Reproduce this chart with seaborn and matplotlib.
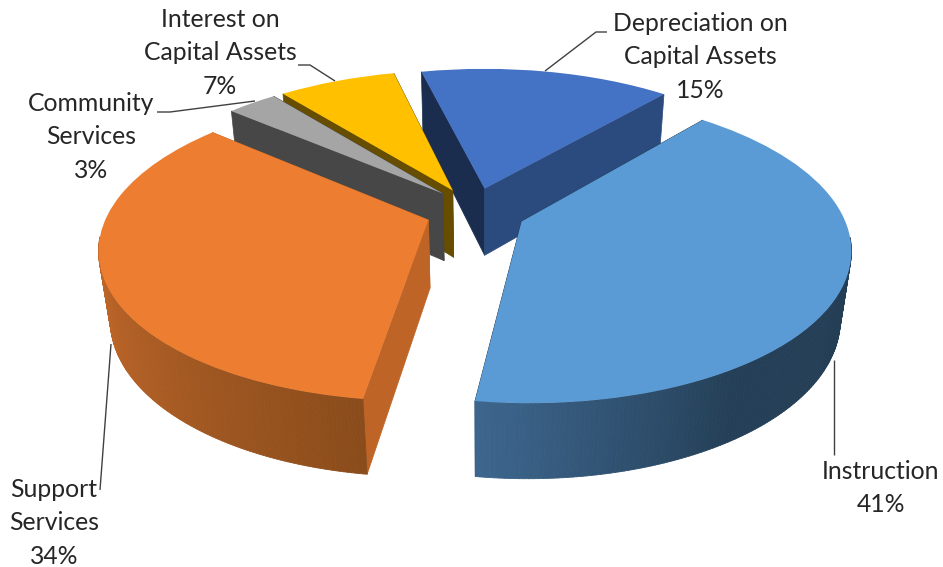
import numpy as np
import matplotlib
matplotlib.use("Agg")
import matplotlib.pyplot as plt
from matplotlib.collections import PolyCollection
from matplotlib.colors import to_rgb
from matplotlib.transforms import Transform
import seaborn as sns

# --- data ---
categories = ["Instruction", "Support\nServices", "Community\nServices",
              "Interest on\nCapital Assets", "Depreciation on\nCapital Assets"]
values = [41, 34, 3, 7, 15]

# --- style ---
top_colors = ["#5B9BD5", "#ED7D31", "#A5A5A5", "#FFC000", "#4472C4"]
wall_end_colors = ["#1B3A52", "#BE6426", "#474747", "#664D00", "#2B4A7D"]   # wall at slice's end angle
wall_start_colors = ["#1B3A52", "#BE6426", "#474747", "#664D00", "#1B2D4F"]  # wall at slice's start angle
rim_ramps = [[(0.0, "#3D668E"), (0.28, "#243F57"), (1.0, "#233D53")],
             [(0.0, "#CA702D"), (0.50, "#BC6528"), (1.0, "#8A4C1B")],
             [(0.0, "#474747"), (1.0, "#474747")],
             [(0.0, "#664D00"), (1.0, "#664D00")],
             [(0.0, "#2B4A7D"), (1.0, "#2B4A7D")]]
first_angle = 49.6
# slice apex displacement on the pie's plane
offsets = [(0.116, -0.050), (-0.172, -0.040), (-0.131, 0.141), (-0.100, 0.163), (0.002, 0.177)]
draw_order = [4, 3, 2, 1, 0]
label_pos = [(881, 488), (54, 523), (91, 137), (220, 53), (700, 57)]
leaders = [[(834, 360), (834, 455)],
           [(111, 344), (100, 490)],
           [(255, 101), (170, 112), (157, 112)],
           [(335, 81), (310, 65), (298, 65)],
           [(545, 71), (596, 32), (607, 32)]]

XC, YC, A, B, K, D, M = 484.0, 214.0, 321.0, 148.0, 0.17, 70.0, 0.03


class Projection(Transform):
    """Perspective view of the tilted pie, z=0 top face, z=1 bottom face."""
    input_dims = 2
    output_dims = 2
    is_separable = False
    has_inverse = False

    def __init__(self, z=0.0):
        super().__init__()
        self.z = z

    def transform_non_affine(self, xy):
        xy = np.asarray(xy, dtype=float)
        w = 1 + K * xy[:, 1] + M * self.z
        return np.column_stack([XC + A * xy[:, 0] / w,
                                YC + (-B * xy[:, 1] + D * self.z) / w])


def ramp_color(ramp, t):
    ts = [p[0] for p in ramp]
    cs = np.array([to_rgb(p[1]) for p in ramp])
    return tuple(np.interp(t, ts, cs[:, i]) for i in range(3))


sns.set_theme(style="white")
plt.rcParams["font.family"] = ["Lato", "DejaVu Sans"]
fig, ax = plt.subplots(figsize=(9.43, 5.67), dpi=100)
fig.subplots_adjust(0, 0, 1, 1)
palette = sns.color_palette(top_colors)

starts = first_angle - np.cumsum([0] + values[:-1]) * 3.6
top_proj = Projection(0.0)
bot_proj = Projection(1.0)

z = 2
for i in draw_order:
    v, s = values[i], starts[i]
    e = s - v * 3.6
    cx, cy = offsets[i]
    th = np.radians(np.linspace(e, s, 200))
    plane = np.column_stack([cx + np.cos(th), cy + np.sin(th)])
    tp, bp = top_proj.transform(plane), bot_proj.transform(plane)
    apex = np.array([[cx, cy]])
    at, ab = top_proj.transform(apex)[0], bot_proj.transform(apex)[0]
    # radial walls
    ax.fill([at[0], tp[-1, 0], bp[-1, 0], ab[0]], [at[1], tp[-1, 1], bp[-1, 1], ab[1]],
            color=wall_start_colors[i], lw=0.5, zorder=z)
    ax.fill([at[0], tp[0, 0], bp[0, 0], ab[0]], [at[1], tp[0, 1], bp[0, 1], ab[1]],
            color=wall_end_colors[i], lw=0.5, zorder=z)
    # outer rim as colour strips, front-facing part only
    front = [k for k in range(len(th) - 1) if np.sin(th[k]) < -0.1 and np.sin(th[k + 1]) < -0.1]
    if front:
        polys = [np.vstack([tp[k], tp[k + 1], bp[k + 1], bp[k]]) for k in front]
        cols = [ramp_color(rim_ramps[i], k / (len(th) - 2)) for k in front]
        ax.add_collection(PolyCollection(polys, facecolors=cols, edgecolors=cols,
                                         linewidths=0.6, zorder=z + 1))
    # top face
    wedges, _ = ax.pie([v / 100], startangle=s, counterclock=False, center=(cx, cy), radius=1,
                       normalize=False, colors=[palette[i]], wedgeprops=dict(linewidth=0))
    wedges[0].set_transform(top_proj + ax.transData)
    wedges[0].set_zorder(z + 2)
    z += 3

for pts in leaders:
    xs, ys = zip(*pts)
    ax.plot(xs, ys, color="#404040", lw=1.0, zorder=50, solid_capstyle="butt")

for name, v, (x, y) in zip(categories, values, label_pos):
    ax.text(x, y, f"{name}\n{v}%", ha="center", va="center", ma="center",
            fontsize=17.8, color="#262626", linespacing=1.54, zorder=60)

ax.set_aspect("auto")
ax.set_xlim(0, 943)
ax.set_ylim(567, 0)
ax.set_axis_off()
fig.savefig("out.png", dpi=100, facecolor="white")
